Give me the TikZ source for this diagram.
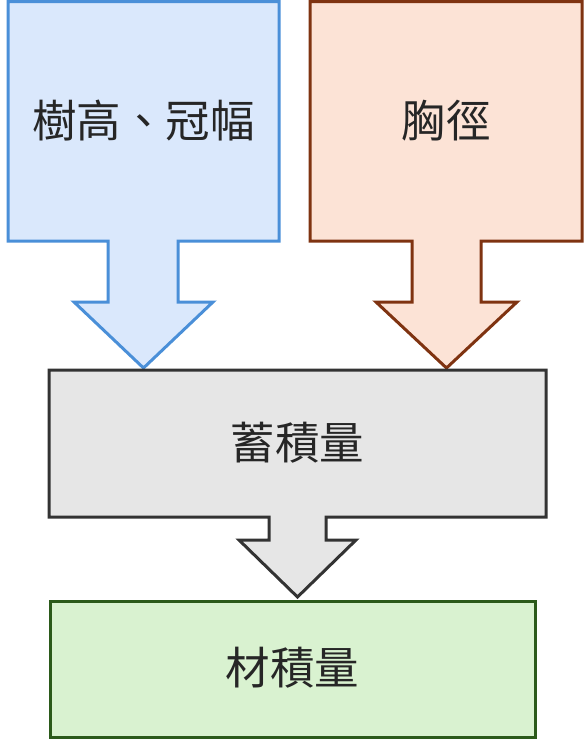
\documentclass[tikz,border=0pt]{standalone}
\usepackage{fontspec}
\newfontfamily\cjk{Noto Sans CJK TC}
\definecolor{bluefill}{HTML}{DAE8FC}
\definecolor{bluedraw}{HTML}{4A8FD8}
\definecolor{orfill}{HTML}{FCE3D6}
\definecolor{ordraw}{HTML}{7F3311}
\definecolor{grayfill}{HTML}{E6E6E6}
\definecolor{graydraw}{HTML}{333333}
\definecolor{grfill}{HTML}{D9F2D0}
\definecolor{grdraw}{HTML}{2B5A1A}
\tikzset{
  shapeline/.style={line width=3pt, line join=miter},
  lbl/.style={font=\cjk\fontsize{44.5}{50}\selectfont, text=black!85, inner sep=0pt}
}
\begin{document}
\begin{tikzpicture}[x=1pt,y=-1pt]
\useasboundingbox (0,0) rectangle (584,739);
% blue callout
\draw[shapeline, draw=bluedraw, fill=bluefill]
  (8,1.5) -- (279,1.5) -- (279,241) -- (178,241) -- (178,302) -- (213,302)
  -- (143.5,368) -- (74,302) -- (108,302) -- (108,241) -- (8,241) -- cycle;
\node[lbl] (a) at (143.5,121) {樹高、冠幅};
% orange callout
\draw[shapeline, draw=ordraw, fill=orfill]
  (310,1.5) -- (582,1.5) -- (582,241) -- (481,241) -- (481,302) -- (517,302)
  -- (446.5,368) -- (376,302) -- (412,302) -- (412,241) -- (310,241) -- cycle;
\node[lbl] (b) at (446,121) {胸徑};
% gray callout
\draw[shapeline, draw=graydraw, fill=grayfill]
  (49,370) -- (546,370) -- (546,517) -- (326,517) -- (326,540) -- (356,540)
  -- (297.5,597) -- (239,540) -- (269,540) -- (269,517) -- (49,517) -- cycle;
\node[lbl] (c) at (297.5,443) {蓄積量};
% green box
\draw[shapeline, draw=grdraw, fill=grfill] (50,601) rectangle (535,737);
\node[lbl] (d) at (292.5,668) {材積量};
\end{tikzpicture}
\end{document}
